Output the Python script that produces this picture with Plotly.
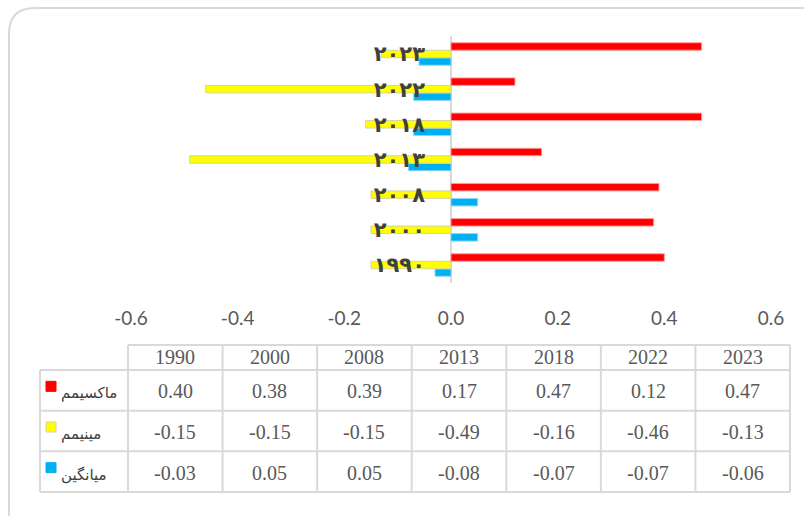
import plotly.graph_objects as go

W, H = 804, 516

# data
years = ['1990', '2000', '2008', '2013', '2018', '2022', '2023']
years_fa = ['۱۹۹۰', '۲۰۰۰', '۲۰۰۸', '۲۰۱۳', '۲۰۱۸', '۲۰۲۲', '۲۰۲۳']
maximum = [0.40, 0.38, 0.39, 0.17, 0.47, 0.12, 0.47]
minimum = [-0.15, -0.15, -0.15, -0.49, -0.16, -0.46, -0.13]
average = [-0.03, 0.05, 0.05, -0.08, -0.07, -0.07, -0.06]
series_names = ['ماکسیمم', 'مینیمم', 'میانگین']
series_colors = ['#FF0000', '#FFFF00', '#00B0F0']
edge_colors = ['#ff9c9c', '#d6d2a4', '#8fd6f5']
x_ticks = [-0.6, -0.4, -0.2, 0.0, 0.2, 0.4, 0.6]
x_tick_labels = ['-0.6', '-0.4', '-0.2', '0.0', '0.2', '0.4', '0.6']


def px(x):
    return x / W


def py(y):
    return 1 - y / H


fig = go.Figure()

# blue first so it sits at the bottom of each group, red on top
for vals, i in [(average, 2), (minimum, 1), (maximum, 0)]:
    fig.add_trace(go.Bar(
        y=years, x=vals, orientation='h', name=series_names[i],
        marker=dict(color=series_colors[i], line=dict(color=edge_colors[i], width=1)),
        showlegend=False, hoverinfo='x+name'))

# ---- data table under the chart (grid + texts) ----
grid = '#d9d9d9'
txt = '#595959'
lab_l, col0 = 40, 128
col_w = (790 - col0) / len(years)
head_t, head_b = 345, 370
row_h = (492 - head_b) / 3
tab_r = col0 + col_w * len(years)

shapes = []
# horizontal lines
shapes.append(dict(type='line', x0=px(col0), x1=px(tab_r), y0=py(head_t), y1=py(head_t)))
for k in range(4):
    yy = head_b + k * row_h
    shapes.append(dict(type='line', x0=px(lab_l), x1=px(tab_r), y0=py(yy), y1=py(yy)))
# vertical lines
shapes.append(dict(type='line', x0=px(lab_l), x1=px(lab_l), y0=py(head_b), y1=py(492)))
for i in range(len(years) + 1):
    xx = col0 + i * col_w
    shapes.append(dict(type='line', x0=px(xx), x1=px(xx), y0=py(head_t), y1=py(492)))
for s in shapes:
    s.update(xref='paper', yref='paper', line=dict(color=grid, width=2), layer='below')

annots = []
for i, yr in enumerate(years):
    cx = col0 + (i + 0.5) * col_w
    annots.append(dict(x=px(cx), y=py((head_t + head_b) / 2 - 1), text=yr,
                       font=dict(family='Liberation Serif', size=20, color=txt)))
    for k, vals in enumerate([maximum, minimum, average]):
        cy = head_b + (k + 0.5) * row_h
        annots.append(dict(x=px(cx), y=py(cy + 1), text='%.2f' % vals[i],
                           font=dict(family='Liberation Serif', size=20, color=txt)))
for k in range(3):
    cy = head_b + (k + 0.5) * row_h
    annots.append(dict(x=px(59), y=py(cy + 3), text=series_names[k], xanchor='left',
                       font=dict(family='DejaVu Sans', size=15, color='#404040')))
    shapes.append(dict(type='rect', xref='paper', yref='paper',
                       x0=px(46), x1=px(56), y0=py(cy - 9), y1=py(cy + 1),
                       fillcolor=series_colors[k],
                       line=dict(color=edge_colors[k] if k == 1 else series_colors[k], width=1)))
for a in annots:
    a.update(xref='paper', yref='paper', showarrow=False, yanchor='middle',
             xanchor=a.get('xanchor', 'center'))

# rounded frame around the chart
r = 26
path = 'M %f,%f L %f,%f Q %f,%f %f,%f L %f,%f' % (
    px(9), py(H + 5), px(9), py(8 + r), px(9), py(8), px(9 + r), py(8), px(W + 5), py(8))
shapes.append(dict(type='path', path=path, xref='paper', yref='paper',
                   line=dict(color=grid, width=2)))

x0, x1 = 131 / W, 771 / W
fig.update_layout(
    width=W, height=H, margin=dict(l=0, r=0, t=0, b=0, autoexpand=False),
    paper_bgcolor='white', plot_bgcolor='rgba(0,0,0,0)',
    barmode='group', bargap=0.36, bargroupgap=0,
    shapes=shapes, annotations=annots,
    xaxis=dict(domain=[x0, x1], range=[-0.6, 0.6], tickvals=x_ticks, ticktext=x_tick_labels,
               showgrid=False, showline=False, zeroline=True, zerolinecolor=grid,
               zerolinewidth=2, ticks='', ticklabelstandoff=22, automargin=False,
               tickfont=dict(family='Lato', size=19, color=txt), fixedrange=True),
    yaxis=dict(domain=[py(282.6), py(36.4)], type='category',
               categoryorder='array', categoryarray=years,
               tickvals=years, ticktext=years_fa, anchor='free', position=(x0 + x1) / 2,
               showgrid=False, showline=False, zeroline=False, ticks='', ticklabelstandoff=26,
               automargin=False,
               tickfont=dict(family='DejaVu Sans', size=21, color='#404040', weight='bold'),
               fixedrange=True),
)

fig.write_html('out.html', config={'displayModeBar': False},
               post_script="document.body.style.margin='0px';")
